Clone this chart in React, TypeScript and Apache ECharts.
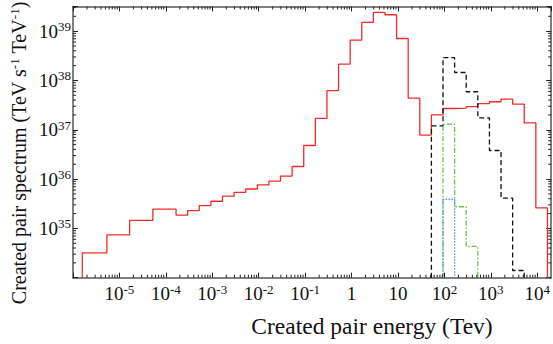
import React, { useEffect, useRef } from 'react';
import * as echarts from 'echarts';

// Axis extents (log10 of energy in TeV, log10 of spectrum)
const X_MIN_LOG = -6;
const X_MAX_LOG = 4.3;
const Y_MIN_LOG = 34;
const Y_MAX_LOG = 39.5;

// Bin edges, log10(energy / TeV)
const redEdgesLog10 = [
  -5.8, -5.27, -4.78, -4.28, -3.78, -3.53, -3.28, -3.03, -2.78, -2.53, -2.28, -2.03,
  -1.78, -1.53, -1.28, -1.03, -0.78, -0.53, -0.28, -0.03, 0.22, 0.47, 0.72, 0.97,
  1.22, 1.47, 1.72, 1.97, 2.22, 2.47, 2.72, 2.97, 3.22, 3.47, 3.72, 3.97, 4.22,
];
const redValues = [
  3.2e34, 7.4e34, 1.45e35, 2.45e35, 1.85e35, 2.3e35, 2.9e35, 3.55e35, 4.5e35, 5.4e35,
  6.3e35, 7.6e35, 9.1e35, 1.15e36, 1.8e36, 4.8e36, 1.7e37, 6.2e37, 2.15e38, 6.6e38,
  1.5e39, 2.4e39, 2.15e39, 7.1e38, 4.4e37, 7.8e36, 2.0e37, 2.7e37, 2.75e37, 2.95e37,
  3.4e37, 3.7e37, 4.2e37, 3.3e37, 1.38e37, 2.6e35,
];

const blackEdgesLog10 = [1.72, 1.97, 2.22, 2.47, 2.72, 2.97, 3.22, 3.47, 3.72];
const blackValues = [1.2e37, 2.9e38, 1.45e38, 5.9e37, 1.75e37, 3.8e36, 4.1e35, 1.4e34];

const greenEdgesLog10 = [1.97, 2.22, 2.47, 2.72];
const greenValues = [1.3e37, 2.75e35, 4.3e34];

const blueEdgesLog10 = [1.97, 2.22];
const blueValues = [3.9e35];

const xLabelExponents = [-5, -4, -3, -2, -1, 0, 1, 2, 3, 4];
const yLabelExponents = [35, 36, 37, 38, 39];

const FONT = '"Liberation Serif", "Times New Roman", serif';

function stepPoints(edges: number[], values: number[]): number[][] {
  const pts: number[][] = [[edges[0], Y_MIN_LOG]];
  values.forEach((v, i) => {
    const lv = Math.log10(v);
    pts.push([edges[i], lv], [edges[i + 1], lv]);
  });
  pts.push([edges[edges.length - 1], Y_MIN_LOG]);
  return pts;
}

function isInt(v: number) {
  return Math.abs(v - Math.round(v)) < 1e-6;
}

function xLabel(v: number) {
  if (!isInt(v)) return '';
  const n = Math.round(v);
  if (!xLabelExponents.includes(n)) return '';
  if (n === 0) return '{b|1}';
  if (n === 1) return '{b|10}';
  return `{b|10}{s|${n}}`;
}

function yLabel(v: number) {
  if (!isInt(v)) return '';
  const n = Math.round(v);
  if (!yLabelExponents.includes(n)) return '';
  return `{b|10}{s|${n}}`;
}

// Minor tick positions (2..9 within each decade)
const minorTicks: number[][] = [];
for (let n = Math.floor(X_MIN_LOG); n <= Math.ceil(X_MAX_LOG); n++) {
  for (let k = 2; k <= 9; k++) {
    const u = n + Math.log10(k);
    if (u > X_MIN_LOG && u < X_MAX_LOG) minorTicks.push([u, Y_MIN_LOG, 0]);
  }
}
for (let n = Math.floor(Y_MIN_LOG); n <= Math.ceil(Y_MAX_LOG); n++) {
  for (let k = 2; k <= 9; k++) {
    const v = n + Math.log10(k);
    if (v > Y_MIN_LOG && v < Y_MAX_LOG) minorTicks.push([X_MIN_LOG, v, 1]);
  }
}

const AXIS_COLOR = '#555';
const TICK_COLOR = '#222';

export default function App() {
  const ref = useRef<HTMLDivElement>(null);

  useEffect(() => {
    document.body.style.margin = '0';
    if (!ref.current) return;
    const chart = echarts.init(ref.current, undefined, { renderer: 'svg' });

    const axisCommon = {
      type: 'value' as const,
      interval: 1,
      axisLine: { show: true, onZero: false, lineStyle: { color: AXIS_COLOR, width: 1.5 } },
      axisTick: { show: true, inside: true, length: 5, lineStyle: { color: TICK_COLOR, width: 1 } },
      splitLine: { show: false },
    };

    const rich = {
      b: { fontFamily: FONT, fontSize: 19, color: '#111', lineHeight: 22 },
      s: { fontFamily: FONT, fontSize: 13, color: '#111', lineHeight: 15, verticalAlign: 'top' },
    };

    const lineSeries = (name: string, data: number[][], color: string, type: any, width = 1.3) => ({
      name,
      type: 'line',
      data,
      showSymbol: false,
      symbol: 'none',
      clip: true,
      silent: true,
      lineStyle: { color, width, type },
      z: 3,
    });

    chart.setOption({
      animation: false,
      backgroundColor: '#fff',
      grid: { left: 73, right: -1.3, top: 6.5, bottom: 66.3, containLabel: false },
      xAxis: [
        {
          ...axisCommon,
          min: X_MIN_LOG,
          max: X_MAX_LOG,
          position: 'bottom',
          axisLabel: {
            show: true, margin: 5, formatter: xLabel, rich,
            fontFamily: FONT, fontSize: 19, showMaxLabel: false,
          },
        },
        {
          ...axisCommon,
          min: X_MIN_LOG,
          max: X_MAX_LOG,
          position: 'top',
          axisLabel: { show: false },
        },
      ],
      yAxis: [
        {
          ...axisCommon,
          min: Y_MIN_LOG,
          max: Y_MAX_LOG,
          position: 'left',
          axisLabel: { show: true, margin: 2, formatter: yLabel, rich, fontFamily: FONT, fontSize: 19 },
        },
        {
          ...axisCommon,
          min: Y_MIN_LOG,
          max: Y_MAX_LOG,
          position: 'right',
          axisLabel: { show: false },
        },
      ],
      series: [
        lineSeries('red', stepPoints(redEdgesLog10, redValues), '#ee2c2c', 'solid'),
        lineSeries('black', stepPoints(blackEdgesLog10, blackValues), '#111111', [5, 3]),
        lineSeries('green', stepPoints(greenEdgesLog10, greenValues), '#6cc04a', [5, 2, 1.5, 2]),
        lineSeries('blue', stepPoints(blueEdgesLog10, blueValues), '#5b8fd6', [1.5, 1.5]),
        {
          type: 'custom',
          silent: true,
          z: 5,
          data: minorTicks,
          renderItem: (params: any, api: any) => {
            const kind = api.value(2);
            const style = { stroke: TICK_COLOR, lineWidth: 1 };
            const len = 3;
            if (kind === 0) {
              const u = api.value(0);
              const b = api.coord([u, Y_MIN_LOG]);
              const t = api.coord([u, Y_MAX_LOG]);
              return {
                type: 'group',
                children: [
                  { type: 'line', shape: { x1: b[0], y1: b[1], x2: b[0], y2: b[1] - len }, style },
                  { type: 'line', shape: { x1: t[0], y1: t[1], x2: t[0], y2: t[1] + len }, style },
                ],
              };
            }
            const v = api.value(1);
            const l = api.coord([X_MIN_LOG, v]);
            const r = api.coord([X_MAX_LOG, v]);
            return {
              type: 'group',
              children: [
                { type: 'line', shape: { x1: l[0], y1: l[1], x2: l[0] + len, y2: l[1] }, style },
                { type: 'line', shape: { x1: r[0], y1: r[1], x2: r[0] - len, y2: r[1] }, style },
              ],
            };
          },
        },
      ],
      graphic: [
        {
          type: 'text',
          x: 372,
          y: 326,
          style: {
            text: 'Created pair energy (Tev)',
            fontFamily: FONT,
            fontSize: 23.5,
            fill: '#111',
            align: 'center',
            verticalAlign: 'middle',
          },
        },
        {
          type: 'text',
          x: 19,
          y: 153,
          rotation: Math.PI / 2,
          style: {
            text: '{t|Created pair spectrum (TeV s}{s|-1}{t| TeV}{s|-1}{t|)}',
            align: 'center',
            verticalAlign: 'middle',
            rich: {
              t: { fontFamily: FONT, fontSize: 20, fill: '#111', lineHeight: 22 },
              s: { fontFamily: FONT, fontSize: 13, fill: '#111', lineHeight: 15, verticalAlign: 'top' },
            },
          },
        },
      ],
    });

    return () => chart.dispose();
  }, []);

  return <div ref={ref} style={{ width: 553, height: 344 }} />;
}
